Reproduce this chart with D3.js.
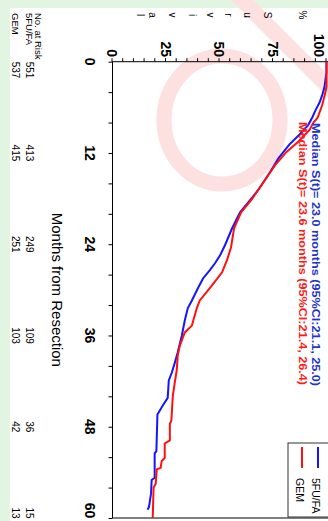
<!DOCTYPE html>
<html><head><meta charset="utf-8">
<script src="https://cdn.jsdelivr.net/npm/d3@7/dist/d3.min.js"></script>
<style>
html,body{margin:0;padding:0;background:#fff;}
svg{display:block;font-family:"Liberation Sans",Arial,sans-serif;}
</style></head>
<body>
<svg id="c" width="328" height="521"></svg>
<script>
// ---- data (months from resection, survival %) ----
const seriesNames = ["5FU/FA", "GEM"];
const seriesColors = ["#1414ff", "#ff1010"];
const fuMonths = [0,1.4,3.4,4.4,5.4,6.3,7.3,8.3,9.6,10.9,12.7,14.9,16.9,18.2,19.8,21.9,24.1,25.5,26.5,27.4,28.5,29.8,31.4,32.4,34,36,38.2,39.6,40.9,41.9,44.2,45.2,46.4,51.2,51.5,54.7,55.0,56.8,58.6,58.9];
const fuSurv   = [100,100,99,98,96.7,95,93.4,91.5,87.3,82.6,77.5,72.8,68,64.3,59.6,55.9,52.6,50.2,47.9,45.5,42.3,39.9,37.1,35.2,33.8,32.4,30.5,29.1,27.7,26.3,25.8,23.5,21,20.5,19.7,19.7,18.3,18.0,17.0,16.3];
const gemMonths = [0,3.3,4,5.7,7.4,8,9,10.5,11.9,13.6,15.3,16.9,18.2,19.8,21.9,24.4,26.1,27.7,29.4,31.4,32.4,34.7,35.6,37.3,38.6,40.6,42.2,43.9,47.2,47.6,49.8,50.2,52.1,52.5,53.4,53.6,55.5,56.0,60];
const gemSurv   = [100,100,99.5,98,95.8,93.9,92,86.9,81.2,76,71.8,68,64.8,60.1,56.8,55.4,53.5,51.2,46.5,40.8,39.4,37.1,33.8,31.5,30.5,30,29.1,28.2,27.5,26.8,26.8,24.4,24.4,23,22.5,20.7,20.2,19.2,18.8];
const monthTicks = [0,4,8,12,16,20,24,28,32,36,40,44,48,52,56,60];
const monthLabels = [0,12,24,36,48,60];
const survTicks = [0,5,10,15,20,25,30,35,40,45,50,55,60,65,70,75,80,85,90,95,100];
const survLabels = [0,25,50,75,100];
const riskMonths = [0,12,24,36,48,60];
const riskFU  = [551,413,249,109,36,15];
const riskGEM = [537,415,251,103,42,13];
const medianTexts = ["Median S(t)= 23.0 months (95%CI:21.1, 25.0)", "Median S(t)= 23.6 months (95%CI:21.4, 26.4)"];
const yLabelLetters = ["%","S","u","r","v","i","v","a","l"];

const svg = d3.select("#c");
// background bands and faint watermark
svg.append("rect").attr("x",0).attr("y",0).attr("width",328).attr("height",521).attr("fill","#fff");
svg.append("rect").attr("x",0).attr("y",0).attr("width",10).attr("height",521).attr("fill","#e2f5e2");
svg.append("rect").attr("x",0).attr("y",0).attr("width",328).attr("height",8).attr("fill","#e2f5e2");
const wm = svg.append("g").attr("fill","none").attr("stroke","#fde0e0");
wm.append("ellipse").attr("cx",222).attr("cy",120).attr("rx",58).attr("ry",64).attr("stroke-width",15);
wm.append("line").attr("x1",236).attr("y1",-6).attr("x2",336).attr("y2",94).attr("stroke-width",16);

// chart drawn in its original (unrotated) frame, then rotated 90deg clockwise
const g = svg.append("g").attr("transform","translate(328,0) rotate(90)");
const x = d3.scaleLinear().domain([0,60]).range([61.7,518]);
const y = d3.scaleLinear().domain([0,100]).range([215.5,1.5]);

// frame
g.append("rect").attr("x",x(0)).attr("y",-1).attr("width",x(60)-x(0)).attr("height",y(0)+1)
  .attr("fill","none").attr("stroke","#000").attr("stroke-width",1);

// month axis
const xa = g.append("g").attr("transform",`translate(0,${y(0)})`)
  .call(d3.axisBottom(x).tickValues(monthTicks).tickSize(4).tickFormat(""));
xa.select(".domain").remove();
xa.selectAll("line").attr("stroke","#000");
const labX = d => Math.min(x(d), 510.5);
g.selectAll(".mlab").data(monthLabels).join("text")
  .attr("x",d=>labX(d)).attr("y",243.5).attr("text-anchor","middle")
  .attr("font-size",14).attr("font-weight","bold").text(d=>d);

// survival axis
const ya = g.append("g").attr("transform",`translate(${x(0)},0)`)
  .call(d3.axisLeft(y).tickValues(survTicks).tickSize(3.5).tickFormat(""));
ya.select(".domain").remove();
ya.selectAll("line").attr("stroke","#000");
g.selectAll(".slab").data(survLabels).join("text")
  .attr("x",57).attr("y",d=>Math.max(y(d), 9)).attr("dy","0.36em").attr("text-anchor","end")
  .attr("font-size",14).attr("font-weight","bold").text(d=>d);

// axis titles
g.append("text").attr("x",(x(0)+x(60))/2).attr("y",276).attr("text-anchor","middle")
  .attr("font-size",15).text("Months from Resection");
const letterY = [26,61,81,100,118,136,156,176,188];
g.selectAll(".yl").data(yLabelLetters).join("text")
  .attr("x",15).attr("y",(d,i)=>letterY[i]).attr("dy","0.35em").attr("text-anchor","middle")
  .attr("font-size",10).text(d=>d);

// curves
const line = d3.line().x(d=>x(d[0])).y(d=>y(d[1])).curve(d3.curveLinear);
const fuData = fuMonths.map((m,i)=>[m,fuSurv[i]]);
const gemData = gemMonths.map((m,i)=>[m,gemSurv[i]]);
g.append("path").datum(fuData).attr("d",line).attr("fill","none").attr("stroke",seriesColors[0]).attr("stroke-width",2);
g.append("path").datum(gemData).attr("d",line).attr("fill","none").attr("stroke",seriesColors[1]).attr("stroke-width",2);

// median texts
g.append("text").attr("x",123).attr("y",16).attr("font-size",11.5).attr("font-weight","bold")
  .attr("fill","#2233cc").attr("textLength",263).attr("lengthAdjust","spacingAndGlyphs").text(medianTexts[0]);
g.append("text").attr("x",122).attr("y",29).attr("font-size",11.5).attr("font-weight","bold")
  .attr("fill","#ff1a1a").attr("textLength",263).attr("lengthAdjust","spacingAndGlyphs").text(medianTexts[1]);

// legend
const lg = g.append("g");
lg.append("rect").attr("x",443).attr("y",-3).attr("width",74).attr("height",43)
  .attr("fill","#fff").attr("stroke","#333").attr("stroke-width",1);
[10,26].forEach((ly,i)=>{
  lg.append("line").attr("x1",447).attr("x2",468).attr("y1",ly).attr("y2",ly)
    .attr("stroke",seriesColors[i]).attr("stroke-width",2);
  lg.append("text").attr("x",478).attr("y",ly+6).attr("font-size",10.5).attr("fill","#000").text(seriesNames[i]);
});

// number at risk
g.append("text").attr("x",13).attr("y",293).attr("font-size",9.5).text("No. at Risk");
g.append("text").attr("x",13).attr("y",302).attr("font-size",9.5).text(seriesNames[0]);
g.append("text").attr("x",13).attr("y",316).attr("font-size",9.5).text(seriesNames[1]);
const riskX = d => d===0 ? 70 : Math.min(x(d), 513);
g.selectAll(".rf").data(riskMonths).join("text").attr("x",d=>riskX(d)).attr("y",302)
  .attr("text-anchor","middle").attr("font-size",10).text((d,i)=>riskFU[i]);
g.selectAll(".rg").data(riskMonths).join("text").attr("x",d=>riskX(d)).attr("y",316)
  .attr("text-anchor","middle").attr("font-size",10).text((d,i)=>riskGEM[i]);
</script>
</body></html>
